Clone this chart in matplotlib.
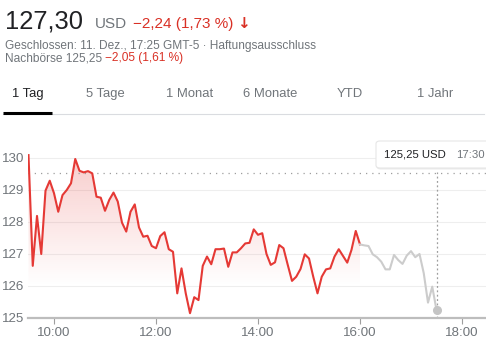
import numpy as np
import matplotlib.pyplot as plt
from matplotlib.patches import FancyBboxPatch

W, H = 486, 351

# intraday quotes, 5 minute steps (regular session 9:30-16:00)
regular = [130.09, 126.63, 128.19, 127.00, 128.98, 129.29, 128.90, 128.32, 128.84, 129.00,
           129.21, 129.97, 129.60, 129.55, 129.59, 129.52, 128.79, 128.76, 128.35, 128.69,
           128.92, 128.64, 127.98, 127.70, 128.32, 128.55, 127.83, 127.54, 127.57, 127.25,
           127.18, 127.56, 127.68, 127.15, 127.07, 125.77, 126.55, 125.77, 125.15, 125.65,
           125.56, 126.63, 126.92, 126.68, 127.15, 127.15, 127.17, 126.60, 127.05, 127.05,
           127.18, 127.33, 127.35, 127.77, 127.60, 127.65, 127.00, 126.66, 126.74, 127.28,
           127.18, 126.66, 126.16, 126.29, 126.53, 126.99, 126.86, 126.29, 125.77, 126.29,
           126.52, 126.55, 126.92, 127.15, 126.94, 126.73, 127.13, 127.72, 127.30]
# after hours 16:00-17:30
after = [127.30, 127.27, 127.25, 126.99, 126.90, 126.76, 126.52, 126.52, 126.97, 126.81,
         126.69, 126.95, 127.09, 126.90, 127.00, 126.40, 125.48, 125.98, 125.25]
prev_close = 129.54

t_reg = 9.5 + np.arange(len(regular)) * 5 / 60
t_aft = 16.0 + np.arange(len(after)) * 5 / 60

yticks = [125, 126, 127, 128, 129, 130]
xticks = [10, 12, 14, 16, 18]
xlabels = ["10:00", "12:00", "14:00", "16:00", "18:00"]
tabs = ["1 Tag", "5 Tage", "1 Monat", "6 Monate", "YTD", "1 Jahr"]
tab_x = [12, 86, 166, 243, 337, 417]

RED = "#e53935"
TXT_RED = "#d93025"
DARK = "#202124"
GREY = "#70757a"

plt.rcParams["font.family"] = ["Liberation Sans", "DejaVu Sans"]

fig = plt.figure(figsize=(W / 100, H / 100), dpi=100)


def fx(px):
    return px / W


def fy(py):
    return 1 - py / H


# ---- header ----
fig.text(fx(5), fy(28), "127,30", fontsize=18.4, color=DARK, va="baseline")
fig.text(fx(95), fy(28), "USD", fontsize=11, color=GREY, va="baseline")
fig.text(fx(133), fy(28), "\u22122,24 (1,73 %)", fontsize=11, color=TXT_RED, va="baseline")
fig.text(fx(237), fy(28), "\u2193", fontsize=11, color=TXT_RED, va="baseline",
         fontweight="bold", family=["DejaVu Sans"])
fig.text(fx(5), fy(48.5), "Geschlossen: 11. Dez., 17:25 GMT-5 \u00b7 Haftungsausschluss",
         fontsize=8.6, color=GREY, va="baseline")
t3 = fig.text(fx(5), fy(61.5), "Nachbörse 125,25 ", fontsize=8.6, color=GREY, va="baseline")
fig.canvas.draw()
bb = t3.get_window_extent()
fig.text(bb.x1 / W, fy(61.5), "\u22122,05 (1,61 %)", fontsize=8.6, color=TXT_RED, va="baseline")

# ---- tabs ----
for name, x in zip(tabs, tab_x):
    fig.text(fx(x), fy(97), name, fontsize=9.4, color=DARK if name == "1 Tag" else GREY,
             va="baseline")
fig.add_artist(plt.Line2D([fx(3), fx(484)], [fy(113.5), fy(113.5)], color="#dadce0", lw=0.8))
fig.add_artist(plt.Line2D([fx(3), fx(52)], [fy(113), fy(113)], color="#000000", lw=2.2,
                          solid_capstyle="butt"))

# ---- chart ----
ax_l, ax_r, ax_t, ax_b = 28, 486, 140, 318
ax = fig.add_axes([fx(ax_l), fy(ax_b), (ax_r - ax_l) / W, (ax_b - ax_t) / H])
x0 = 10 + (ax_l - 54) / 51
x1 = 10 + (ax_r - 54) / 51
ymax = 125 + (ax_b - ax_t) / 32
for s in ["top", "right", "left"]:
    ax.spines[s].set_visible(False)
ax.spines["bottom"].set_color("#bdbdbd")
ax.spines["bottom"].set_linewidth(1.6)

for y in yticks[1:]:
    ax.axhline(y, color="#eeeeee", lw=0.8, zorder=0)

ax.set_yticks(yticks)
ax.set_yticklabels([str(v) for v in yticks])
ax.set_xticks(xticks)
ax.set_xticklabels(xlabels)
ax.tick_params(axis="y", length=0, pad=2.5, labelsize=9.6, labelcolor=GREY)
ax.tick_params(axis="x", length=4, width=0.8, color="#9e9e9e", pad=2.8,
               labelsize=9.6, labelcolor=GREY)

# gradient fill under the regular session line
fill = ax.fill_between(t_reg, regular, 125, color="none", lw=0)
grad = np.linspace(0, 1, 256)
rgba = np.zeros((256, 1, 4))
rgba[:, 0, 0], rgba[:, 0, 1], rgba[:, 0, 2] = 0.9, 0.22, 0.21
rgba[:, 0, 3] = np.clip((grad * 5.5 - 1.0) / 4.5, 0, 1) * 0.28
img = ax.imshow(rgba, extent=[t_reg[0], t_reg[-1], 125, 130.5], origin="lower",
                aspect="auto", zorder=1, interpolation="bilinear")
img.set_clip_path(fill.get_paths()[0], transform=ax.transData)
ax.set_xlim(x0, x1)
ax.set_ylim(125, ymax)

ax.plot(t_reg, regular, color=RED, lw=1.5, zorder=3, solid_joinstyle="round")
ax.plot(t_aft, after, color="#cccccc", lw=1.5, zorder=3, solid_joinstyle="round")
ax.plot(t_aft[-1], after[-1], "o", color="#c4c4c4", ms=5.5, zorder=4)

# previous close + crosshair
ax.axhline(prev_close, color="#9e9e9e", lw=0.9, ls=(0, (1, 4)), zorder=2)
ax.plot([t_aft[-1], t_aft[-1]], [125, 129.55], color="#9e9e9e", lw=0.9,
        ls=(0, (1.5, 2)), zorder=2)

# tooltip box
box = FancyBboxPatch((fx(376), fy(168)), fx(120), 27 / H,
                     boxstyle="round,pad=0,rounding_size=0.008",
                     transform=fig.transFigure, facecolor="white",
                     edgecolor="#e6e6e6", lw=0.8, zorder=10)
shadow = FancyBboxPatch((fx(376.5), fy(169.5)), fx(120), 27 / H,
                        boxstyle="round,pad=0,rounding_size=0.008",
                        transform=fig.transFigure, facecolor="#000000", alpha=0.08,
                        edgecolor="none", zorder=9)
fig.add_artist(shadow)
fig.add_artist(box)
fig.text(fx(384), fy(154.5), "125,25 USD", fontsize=8.2, color=DARK, va="center", zorder=11)
fig.text(fx(456), fy(154.5), "17:30", fontsize=8.2, color=GREY, va="center", zorder=11)

fig.savefig("out.png", dpi=100)
